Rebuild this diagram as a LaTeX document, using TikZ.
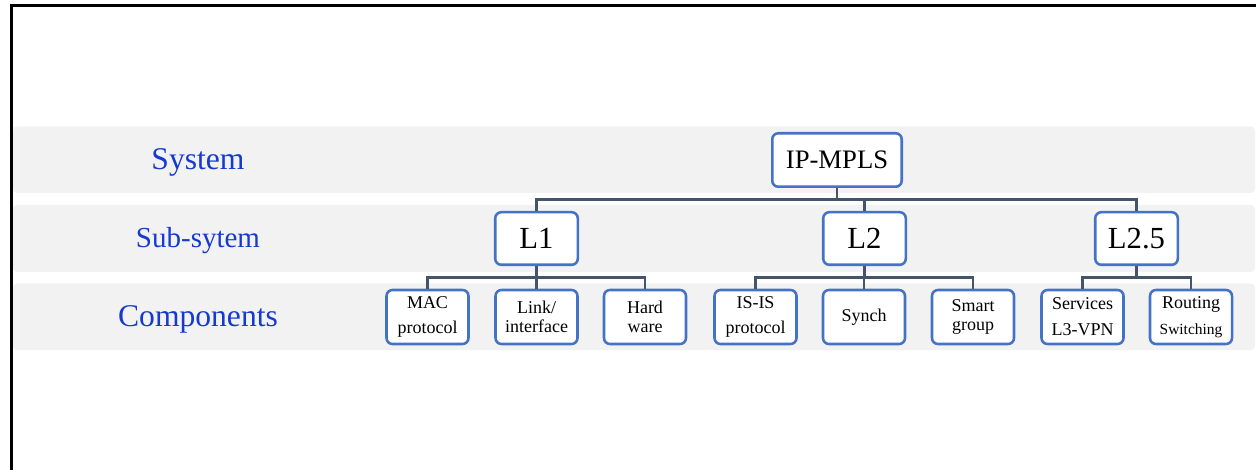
\documentclass[tikz,border=0pt]{standalone}
\usepackage{fontspec}
\setmainfont{LiberationSerif-Regular.ttf}
\definecolor{bandgray}{HTML}{F2F2F2}
\definecolor{boxblue}{HTML}{4472C4}
\definecolor{linkgray}{HTML}{44546A}
\definecolor{labelblue}{RGB}{22,58,208}
\tikzset{
  band/.style={fill=bandgray, draw=none, rounded corners=3},
  rowlabel/.style={text=labelblue, inner sep=0pt, anchor=center},
  unit/.style={draw=boxblue, line width=1.9pt, fill=white, rounded corners=4.5pt,
    inner sep=0pt, align=center},
  topbox/.style={unit, minimum width=97.1pt, minimum height=40.1pt,
    font=\fontsize{20}{24}\selectfont},
  subbox/.style={unit, minimum width=61.9pt, minimum height=39.4pt,
    font=\fontsize{23}{27}\selectfont},
  compbox/.style={unit, minimum width=61.5pt, minimum height=40.5pt,
    font=\fontsize{13.5}{14.4}\selectfont},
  conn/.style={draw=linkgray, line width=1.9pt}
}
\begin{document}
\begin{tikzpicture}[x=0.75pt, y=-0.75pt]
\useasboundingbox (0,0) rectangle (1256,470);

% outer frame (only its left and top edges fall on the page)
\draw[line width=1.6pt, black] (11.5,472) -- (11.5,5.5) -- (1258,5.5);

% level bands
\fill[band] (13,126.5) rectangle (1255,193);
\fill[band] (13,205) rectangle (1255,272);
\fill[band] (13,283.5) rectangle (1255,350);

% level names
\node[rowlabel, font=\fontsize{23.7}{28}\selectfont] (lsys) at (198,162) {System};
\node[rowlabel, font=\fontsize{21.75}{26}\selectfont] (lsub) at (198,240.5) {Sub-sytem};
\node[rowlabel, font=\fontsize{23.7}{28}\selectfont] (lcomp) at (198,319) {Components};

% system
\node[topbox] (ip) at (837,160) {IP-MPLS};

% sub-systems
\node[subbox] (l1) at (536.5,238.5) {L1};
\node[subbox] (l2) at (864.5,238.5) {L2};
\node[subbox] (l25) at (1136.5,238.5) {L2.5};

% components
\node[compbox] (mac) at (427.5,317) {MAC\\[5pt]protocol};
\node[compbox] (link) at (536.5,317) {Link/\\interface};
\node[compbox] (hw) at (645,317) {Hard\\ware};
\node[compbox] (isis) at (755.5,317) {IS-IS\\[5pt]protocol};
\node[compbox] (synch) at (864,317) {Synch};
\node[compbox] (smart) at (973,317) {Smart\\group};
\node[compbox] (serv) at (1082.5,317) {Services\\[5pt]L3-VPN};
\node[compbox] (rout) at (1191,317) {Routing\\[5pt]{\fontsize{11.6}{12}\selectfont Switching}};

% tree connectors: down from the parent, across, down into each child
\foreach \c in {l1,l2,l25}
  \draw[conn] (ip.south) -- ++(0,11.5) -| (\c.north);
\foreach \c in {mac,link,hw}
  \draw[conn] (l1.south) -- ++(0,11.5) -| (\c.north);
\foreach \c in {isis,synch,smart}
  \draw[conn] (l2.south) -- ++(0,11.5) -| (\c.north);
\foreach \c in {serv,rout}
  \draw[conn] (l25.south) -- ++(0,11.5) -| (\c.north);
\end{tikzpicture}
\end{document}
